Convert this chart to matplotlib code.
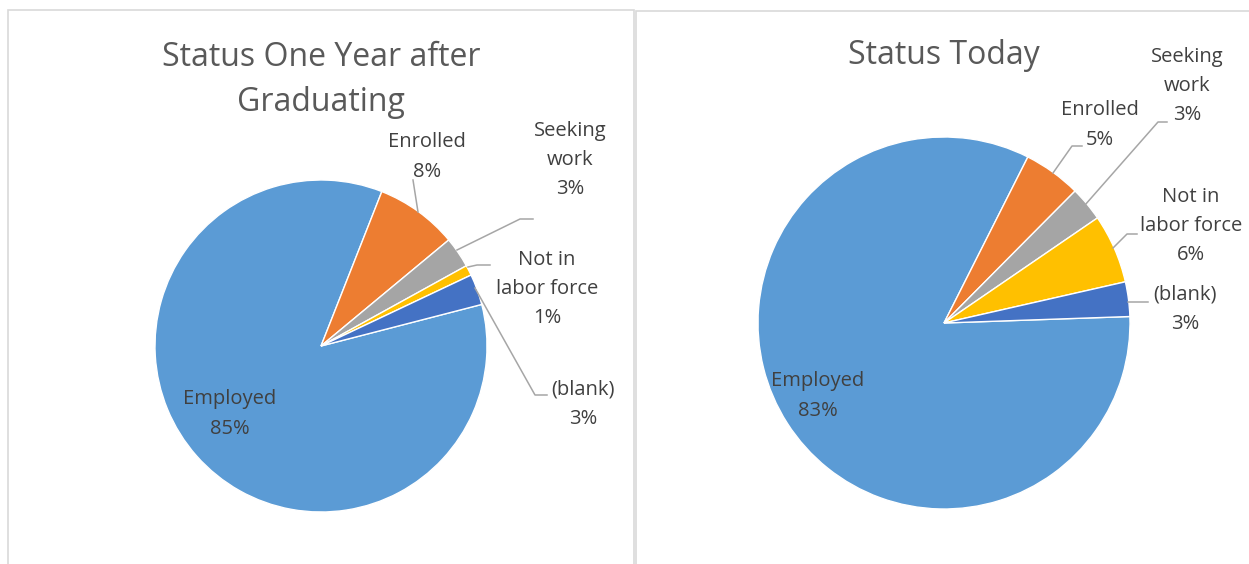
import matplotlib.pyplot as plt
from matplotlib.patches import Rectangle

W, H = 1249, 564

categories = ['Employed', 'Enrolled', 'Seeking work', 'Not in labor force', '(blank)']
label_text = ['Employed', 'Enrolled', 'Seeking\nwork', 'Not in\nlabor force', '(blank)']
year1_pct = [85, 8, 3, 1, 3]
today_pct = [83, 5, 3, 6, 3]
colors = ['#5B9BD5', '#ED7D31', '#A5A5A5', '#FFC000', '#4472C4']

plt.rcParams['font.family'] = ['Open Sans', 'DejaVu Sans']

fig = plt.figure(figsize=(W / 100, H / 100), dpi=100)
ax = fig.add_axes([0, 0, 1, 1])
ax.set_xlim(0, W)
ax.set_ylim(0, H)
ax.axis('off')

# panel frames (image y measured from top)
for x0, x1, top in [(8, 634, 10), (636, 1260, 11)]:
    ax.add_patch(Rectangle((x0, -20), x1 - x0, H - top + 20, fill=False,
                           edgecolor='#D9D9D9', linewidth=1.2))


def draw(vals, cx, cy, r, start, title, title_y, lab_pos, leaders):
    ax.pie(vals, colors=colors, startangle=start, counterclock=False,
           center=(cx, H - cy), radius=r, frame=True,
           wedgeprops=dict(edgecolor='white', linewidth=1))
    ax.text(cx, H - title_y, title, ha='center', va='center', fontsize=23,
            color='#595959', linespacing=1.45)
    for name, v, (lx, ly) in zip(label_text, vals, lab_pos):
        ax.text(lx, H - ly, '%s\n%d%%' % (name, v), ha='center', va='center',
                fontsize=14.5, color='#404040', linespacing=1.62)
    for pts in leaders:
        xs = [p[0] for p in pts]
        ys = [H - p[1] for p in pts]
        ax.plot(xs, ys, color='#A6A6A6', linewidth=1.1)


draw(year1_pct, 321, 346, 166, 90 - 75.5, 'Status One Year after\nGraduating', 80,
     [(230, 414), (427, 157), (570, 160), (547, 289), (583, 404)],
     [[(418, 212), (413, 180)],
      [(457, 250), (520, 219), (533, 219)],
      [(468, 267), (477, 265), (490, 265)],
      [(475, 288), (535, 395), (547, 395)]])

draw(today_pct, 944, 323, 186, 90 - 88, 'Status Today', 56,
     [(818, 396), (1100, 125), (1187, 86), (1191, 226), (1185, 309)],
     [[(1053, 173), (1072, 146), (1082, 146)],
      [(1085, 205), (1158, 122), (1167, 122)],
      [(1113, 248), (1127, 234), (1137, 234)],
      [(1128, 302), (1148, 302)]])

ax.set_xlim(0, W)
ax.set_ylim(0, H)
ax.set_aspect('auto')
fig.savefig('out.png', dpi=100)
